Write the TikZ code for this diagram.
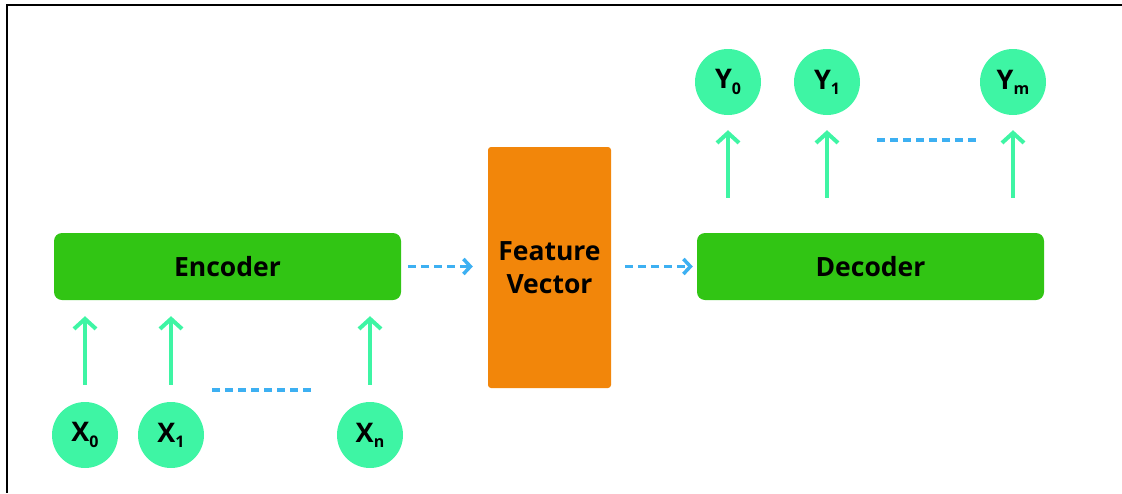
\documentclass[tikz,border=0pt]{standalone}
\usepackage{fontspec}
\setmainfont{Open Sans}
\usetikzlibrary{arrows.meta}

\definecolor{mint}{HTML}{3EF5A4}
\definecolor{leaf}{HTML}{31C514}
\definecolor{amber}{HTML}{F2860A}
\definecolor{sky}{HTML}{3DB0F2}

% lowered small index for the X/Y token labels
\newcommand{\lowidx}[1]{\raisebox{-0.35ex}{\fontsize{16}{16}\selectfont #1}}

\tikzset{
  token/.style={circle, fill=mint, minimum size=66pt, inner sep=0pt,
                font=\fontsize{27}{27}\selectfont\bfseries},
  block/.style={rounded corners=8pt, fill=leaf, minimum width=347pt,
                minimum height=67pt, inner sep=0pt,
                font=\fontsize{26.5}{26.5}\selectfont\bfseries},
  featbox/.style={rounded corners=3pt, fill=amber, minimum width=123pt,
                  minimum height=241pt, inner sep=0pt, align=center,
                  font=\fontsize{26.5}{33}\selectfont\bfseries},
  feed/.style={draw=mint, line width=4pt,
               -{Straight Barb[length=10pt,width=22pt,line width=4pt]}},
  flow/.style={draw=sky, line width=3.5pt, dash pattern=on 8pt off 5pt,
               -{Straight Barb[length=7pt,width=15pt,line width=3.5pt]}},
  ellipsis/.style={draw=sky, line width=3.5pt, dash pattern=on 8pt off 5pt},
  frameline/.style={draw=black, line width=2.5pt}
}

\begin{document}
\begin{tikzpicture}[x=1pt,y=-1pt]
  \useasboundingbox (0,0) rectangle (1122,493);

  % frame on the top and left edges
  \coordinate (fa) at (1122,5);
  \coordinate (fb) at (7,5);
  \coordinate (fc) at (7,493);
  \draw[frameline] (fa) -- (fb) -- (fc);

  % main blocks
  \node[block]   (enc)  at (227.5,266.5) {Encoder};
  \node[featbox] (feat) at (549.5,267.5) {Feature\\Vector};
  \node[block]   (dec)  at (870.5,266.5) {Decoder};

  % input tokens
  \node[token] (x0) at (85,435)  {X\lowidx{0}};
  \node[token] (x1) at (171,435) {X\lowidx{1}};
  \node[token] (xn) at (370,435) {X\lowidx{n}};

  % output tokens
  \node[token] (y0) at (728,82)  {Y\lowidx{0}};
  \node[token] (y1) at (827,82)  {Y\lowidx{1}};
  \node[token] (ym) at (1013,82) {Y\lowidx{m}};

  % inputs into the encoder
  \foreach \t in {x0,x1,xn}
    \draw[feed, shorten <=17pt, shorten >=16pt] (\t.north) -- (\t.north |- enc.south);

  % decoder to outputs
  \foreach \t in {y0,y1,ym}
    \draw[feed, shorten <=35pt, shorten >=15pt] (\t.south |- dec.north) -- (\t.south);

  % encoder -> feature vector -> decoder
  \draw[flow, shorten <=7pt, shorten >=15pt] (enc.east) -- (feat.west |- enc.east);
  \draw[flow, shorten <=14pt, shorten >=4pt] (feat.east |- dec.west) -- (dec.west);

  % ellipses between tokens
  \coordinate (ea) at (212,390);
  \coordinate (eb) at (312,390);
  \draw[ellipsis] (ea) -- (eb);
  \coordinate (ec) at (877,140);
  \coordinate (ed) at (977,140);
  \draw[ellipsis] (ec) -- (ed);
\end{tikzpicture}
\end{document}
